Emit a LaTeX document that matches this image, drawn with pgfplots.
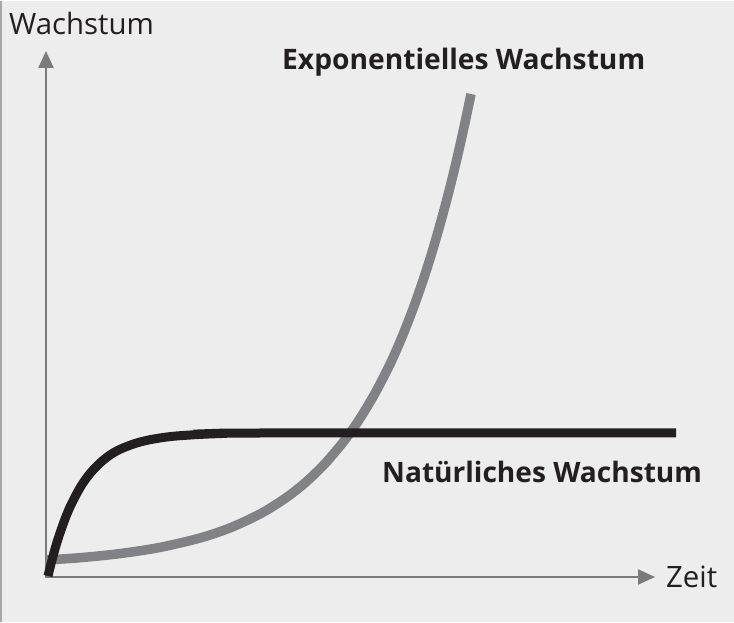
\documentclass[border=0pt]{standalone}
\usepackage{pgfplots}
\pgfplotsset{compat=1.18}
\usetikzlibrary{arrows.meta}
\usepackage{fontspec}
\setmainfont{Open Sans}
\definecolor{bg}{HTML}{EDEDED}
\definecolor{bordercol}{HTML}{A7A7AA}
\definecolor{axiscol}{HTML}{7B7B7D}
\definecolor{curvegray}{HTML}{808285}
\definecolor{curveblack}{HTML}{231F20}
\definecolor{txt}{HTML}{231F20}
\begin{document}
\begin{tikzpicture}
\fill[bg] (0,0) rectangle (734bp,621bp);
\draw[bordercol, line width=2bp] (1bp,0) -- (1bp,621bp);
\begin{axis}[
  x=1bp, y=1bp, xmin=0, xmax=734, ymin=0, ymax=621,
  scale only axis, hide axis, clip=false,
  at={(0,0)}, anchor=origin,
]
% axes
\addplot[axiscol, line width=2.4bp, -{Triangle[length=17bp,width=15bp]}] coordinates {(46,45) (46,571)};
\addplot[axiscol, line width=2.4bp, -{Triangle[length=17bp,width=15bp]}] coordinates {(45,45) (655,45)};
% exponential growth
\addplot[curvegray, line width=9.5bp, smooth, line cap=butt] coordinates {
(46,62) (80,64.3) (120,68.4) (160,74.6) (200,84.0) (230,94.1) (260,108.0) (285,123.5)
(305,139.1) (325,158.4) (345,182.2) (360,203.6) (375,228.7) (390,257.8) (402,285.0)
(414,315.8) (425,347.5) (435,379.8) (445,415.6) (454,451) (463,490.1) (471,528)};
% natural growth
\addplot[curveblack, line width=9bp, smooth, line cap=butt] coordinates {
(48,46) (52,62) (56,76.5) (60,89) (65,103) (70,115) (76,127) (82,137.5)
(90,148.5) (100,159) (110,167) (120,172.7) (135,178.5) (150,182.3) (170,185.4)
(195,187.3) (220,188.4) (260,189) (676,189)};
% labels
\node[anchor=base west, inner sep=0pt, text=txt, font=\fontsize{29.5}{33}\selectfont] at (axis cs:9,587) {Wachstum};
\node[anchor=base west, inner sep=0pt, text=txt, font=\fontsize{29.5}{33}\selectfont] at (axis cs:666,35) {Zeit};
\node[anchor=base west, inner sep=0pt, text=txt, font=\fontsize{28.3}{32}\selectfont\bfseries] at (axis cs:282,552) {Exponentielles Wachstum};
\node[anchor=base west, inner sep=0pt, text=txt, font=\fontsize{28.2}{32}\selectfont\bfseries] at (axis cs:382,140) {Natürliches Wachstum};
\end{axis}
\end{tikzpicture}
\end{document}
